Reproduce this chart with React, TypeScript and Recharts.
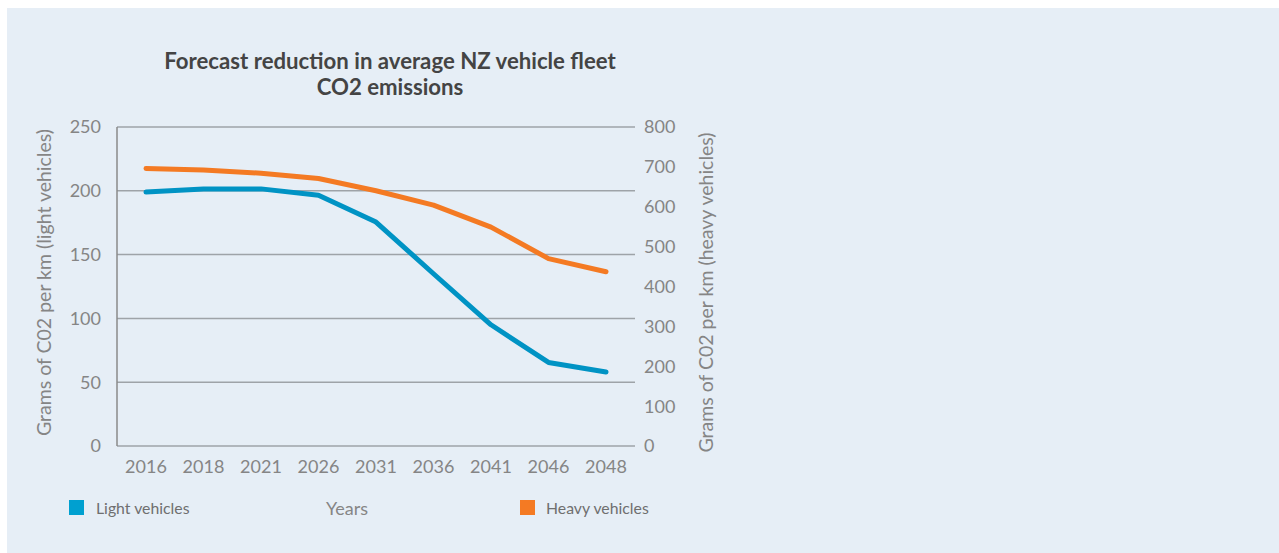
import React from 'react';
import {
  LineChart,
  Line,
  XAxis,
  YAxis,
  CartesianGrid,
} from 'recharts';

const years = ['2016', '2018', '2021', '2026', '2031', '2036', '2041', '2046', '2048'];
const lightVehicles = [199, 201.5, 201.5, 196.5, 175.5, 135, 95, 65.5, 58];
const heavyVehicles = [696, 692, 684, 671, 640, 604, 549, 470, 437];
const leftTicks = [0, 50, 100, 150, 200, 250];
const rightTicks = [0, 100, 200, 300, 400, 500, 600, 700, 800];

const BLUE = '#0093c4';
const ORANGE = '#f47a23';
const GREY = '#858585';
const FONT = 'Lato, "Open Sans", sans-serif';

const data = years.map((year, i) => ({
  year,
  light: lightVehicles[i],
  heavy: heavyVehicles[i],
}));

const tickStyle = { fill: GREY, fontSize: 18, fontFamily: FONT };

const App: React.FC = () => {
  return (
    <div
      style={{
        position: 'absolute',
        left: 7,
        top: 8,
        width: 1272,
        height: 545,
        background: '#e6eef6',
        fontFamily: FONT,
      }}
    >
      <div
        style={{
          position: 'absolute',
          left: 83,
          width: 600,
          top: 40,
          textAlign: 'center',
          fontSize: 22.2,
          fontWeight: 700,
          color: '#444444',
          lineHeight: '26px',
        }}
      >
        Forecast reduction in average NZ vehicle fleet
        <br />
        CO2 emissions
      </div>

      <LineChart
        width={1272}
        height={545}
        data={data}
        margin={{ top: 119, right: 554, bottom: 67, left: 0 }}
      >
        <CartesianGrid
          yAxisId="left"
          vertical={false}
          stroke="#9ea3a8"
          strokeWidth={1.5}
        />
        <XAxis
          dataKey="year"
          height={40}
          axisLine={false}
          tickLine={false}
          tickMargin={8}
          padding={{ left: 29, right: 29 }}
          tick={tickStyle}
          interval={0}
        />
        <YAxis
          yAxisId="left"
          width={110}
          domain={[0, 250]}
          ticks={leftTicks}
          axisLine={{ stroke: '#8a8a8a', strokeWidth: 1.5 }}
          tickLine={false}
          tickMargin={10}
          tick={tickStyle}
          label={{
            value: 'Grams of C02 per km (light vehicles)',
            angle: -90,
            position: 'center',
            dx: -18,
            dy: -4,
            fill: GREY,
            fontSize: 19.5,
            fontFamily: FONT,
          }}
        />
        <YAxis
          yAxisId="right"
          orientation="right"
          width={90}
          domain={[0, 800]}
          ticks={rightTicks}
          axisLine={false}
          tickLine={false}
          tickMargin={3}
          tick={{ ...tickStyle, textAnchor: 'start' }}
          label={{
            value: 'Grams of C02 per km (heavy vehicles)',
            angle: -90,
            position: 'center',
            dx: 26,
            dy: 6,
            fill: GREY,
            fontSize: 19.5,
            fontFamily: FONT,
          }}
        />
        <Line
          yAxisId="left"
          dataKey="light"
          name="Light vehicles"
          stroke={BLUE}
          strokeWidth={5}
          strokeLinecap="round"
          strokeLinejoin="round"
          dot={false}
          isAnimationActive={false}
        />
        <Line
          yAxisId="right"
          dataKey="heavy"
          name="Heavy vehicles"
          stroke={ORANGE}
          strokeWidth={5}
          strokeLinecap="round"
          strokeLinejoin="round"
          dot={false}
          isAnimationActive={false}
        />
      </LineChart>

      <div style={{ position: 'absolute', left: 62, top: 492, width: 15, height: 15, background: '#00a0d0' }} />
      <div style={{ position: 'absolute', left: 89, top: 489, fontSize: 15.8, color: '#6f6f6f', lineHeight: '22px' }}>
        Light vehicles
      </div>
      <div style={{ position: 'absolute', left: 300, width: 80, textAlign: 'center', top: 488, fontSize: 18, color: GREY, lineHeight: '24px' }}>
        Years
      </div>
      <div style={{ position: 'absolute', left: 513, top: 492, width: 15, height: 15, background: ORANGE }} />
      <div style={{ position: 'absolute', left: 539, top: 489, fontSize: 15.8, color: '#6f6f6f', lineHeight: '22px' }}>
        Heavy vehicles
      </div>
    </div>
  );
};

export default App;
